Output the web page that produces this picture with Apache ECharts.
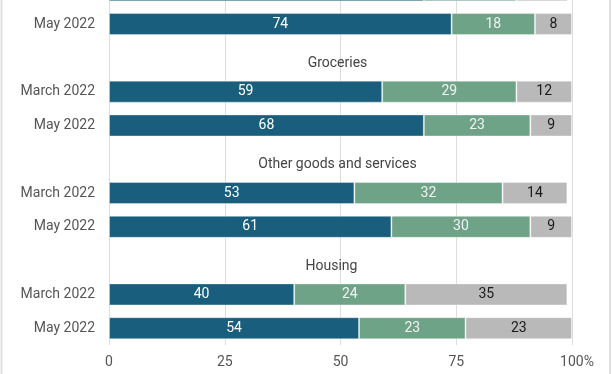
<!DOCTYPE html>
<html>
<head>
<meta charset="utf-8">
<script src="https://cdn.jsdelivr.net/npm/echarts@6/dist/echarts.min.js"></script>
<style>
html,body{margin:0;padding:0;background:#fff;overflow:hidden;width:612px;height:374px;}
#chart{width:612px;height:401px;position:absolute;left:0;top:-27px;}
</style>
</head>
<body>
<div id="chart"></div>
<script>
// Rows from top to bottom (the first group is cropped at the top of the picture)
const rowLabels = ["March 2022", "May 2022", "", "March 2022", "May 2022", "", "March 2022", "May 2022", "", "March 2022", "May 2022"];
const headerNames = ["", "", "Groceries", "", "", "Other goods and services", "", "", "Housing", "", ""];
const seriesA = [68, 74, "-", 59, 68, "-", 53, 61, "-", 40, 54];
const seriesB = [20, 18, "-", 29, 23, "-", 32, 30, "-", 24, 23];
const seriesC = [11, 8, "-", 12, 9, "-", 14, 9, "-", 35, 23];
const headerValues = ["-", "-", 100, "-", "-", 100, "-", "-", 100, "-", "-"];
const xTicks = [0, 25, 50, 75, 100];

const font = "Roboto, 'Noto Sans', sans-serif";
const chart = echarts.init(document.getElementById('chart'), null, {renderer: 'canvas'});

function stackSeries(name, data, color, labelColor) {
  return {
    name: name,
    type: 'bar',
    stack: 'total',
    data: data,
    barWidth: 22,
    itemStyle: {color: color, borderColor: 'rgba(255,255,255,0.35)', borderWidth: 1},
    label: {show: true, position: 'inside', color: labelColor, fontSize: 14, fontFamily: font},
    emphasis: {disabled: true},
    silent: true
  };
}

// header label placement (style, kept outside the data arrays)
const headerData = headerValues.map(function (v, i) {
  if (headerNames[i] === 'Housing') {
    return {value: v, label: {offset: [-9, 5.5]}};
  }
  return v;
});

chart.setOption({
  animation: false,
  grid: {left: 109, right: 40, top: 0.4, bottom: 28.9, containLabel: false},
  graphic: [{
    type: 'rect', shape: {x: 1.5, y: 0, width: 608.5, height: 420},
    style: {fill: 'none', stroke: '#e0e0e0', lineWidth: 2}, silent: true, z: 0
  }],
  xAxis: {
    type: 'value', min: 0, max: 100, interval: 25,
    axisLine: {show: false}, axisTick: {show: false},
    splitLine: {show: true, lineStyle: {color: '#dddddd', width: 1}},
    axisLabel: {
      color: '#555555', fontSize: 14, fontFamily: font, margin: 10,
      formatter: function (v) { return v === xTicks[xTicks.length - 1] ? '{last|' + v + '%}' : String(v); },
      rich: {last: {padding: [0, 0, 0, 10], color: '#555555', fontSize: 14, fontFamily: font}}
    }
  },
  yAxis: {
    type: 'category', inverse: true, data: rowLabels,
    axisLine: {show: false}, axisTick: {show: false}, splitLine: {show: false},
    axisLabel: {color: '#555555', fontSize: 14, fontFamily: font, margin: 14}
  },
  series: [
    stackSeries('A', seriesA, '#195e7d', '#ffffff'),
    stackSeries('B', seriesB, '#6ea388', '#f2f2f2'),
    stackSeries('C', seriesC, '#b9b9b9', '#1a1a1a'),
    {
      name: 'header', type: 'bar', data: headerData, barGap: '-100%', barWidth: 22,
      itemStyle: {color: 'rgba(0,0,0,0)'}, silent: true,
      label: {
        show: true, position: 'inside', offset: [-3, 5.5], color: '#444444', fontSize: 14, fontFamily: font,
        formatter: function (p) { return headerNames[p.dataIndex]; }
      }
    }
  ]
});
</script>
</body>
</html>
